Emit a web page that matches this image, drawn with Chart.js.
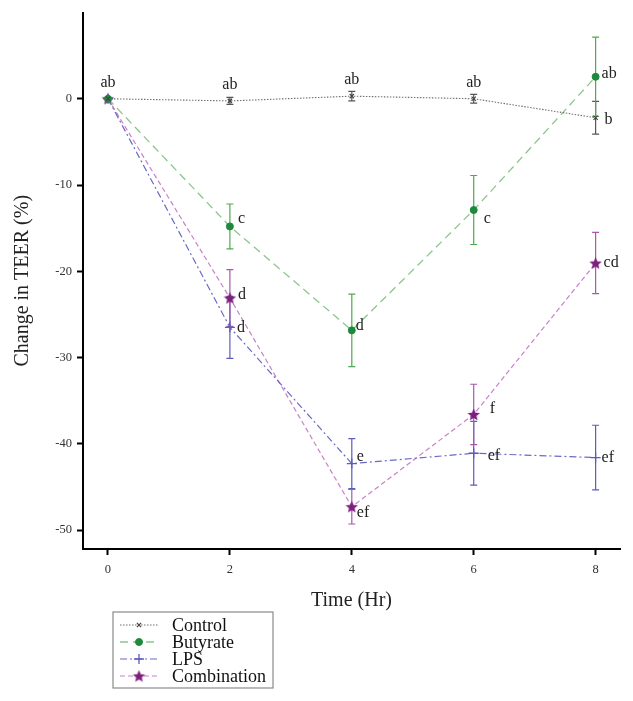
<!DOCTYPE html>
<html>
<head>
<meta charset="utf-8">
<script src="https://cdn.jsdelivr.net/npm/chart.js@4"></script>
<style>
  html, body { margin: 0; padding: 0; background: #fff; }
  #wrap { width: 633px; height: 701px; }
</style>
</head>
<body>
<div id="wrap"><canvas id="grafico" width="633" height="701"></canvas></div>
<script>
// datos
const tiempos = [0, 2, 4, 6, 8];
const xTicks = [0, 2, 4, 6, 8];
const yTicks = [-50, -40, -30, -20, -10, 0];

const nombres = ['Control', 'Butyrate', 'LPS', 'Combination'];

const control     = [0, -0.25, 0.3, 0.0, -2.2];
const butyrate    = [0, -14.8, -26.85, -12.9, 2.55];
const lps         = [0, -26.5, -42.3, -41.1, -41.6];
const combination = [0, -23.1, -47.3, -36.6, -19.05];

const controlErr     = [0, 0.4, 0.55, 0.5, 1.9];
const butyrateErr    = [0, 2.6, 4.2, 4.0, 4.6];
const lpsErr         = [0, 3.6, 2.9, 3.7, 3.75];
const combinationErr = [0, 3.3, 2.0, 3.5, 3.55];

const controlLetras     = ['ab', 'ab', 'ab', 'ab', 'b'];
const butyrateLetras    = ['', 'c', 'd', 'c', 'ab'];
const lpsLetras         = ['', 'd', 'e', 'ef', 'ef'];
const combinationLetras = ['', 'd', 'ef', 'f', 'cd'];

// desplazamientos de las letras (pixeles) y alineacion
const controlPos     = [[0, -16, 'center'], [0, -16, 'center'], [0, -16, 'center'], [0, -16, 'center'], [9, 2, 'left']];
const butyratePos    = [null, [8, -8, 'left'], [4, -5, 'left'], [10, 9, 'left'], [6, -3, 'left']];
const lpsPos         = [null, [7, 0, 'left'], [5, -7, 'left'], [14, 3, 'left'], [6, 0, 'left']];
const combinationPos = [null, [8, -3, 'left'], [5, 6, 'left'], [16, -6, 'left'], [8, 0, 'left']];

const SERIF = "'Liberation Serif', 'DejaVu Serif', serif";

function estrella(color, tam) {
    const c = document.createElement('canvas');
    c.width = tam; c.height = tam;
    const g = c.getContext('2d');
    const cx = tam / 2, cy = tam / 2 + 0.5, R = tam / 2, r = R * 0.45;
    g.beginPath();
    for (let i = 0; i < 10; i++) {
        const ang = -Math.PI / 2 + i * Math.PI / 5;
        const rr = i % 2 === 0 ? R : r;
        g.lineTo(cx + rr * Math.cos(ang), cy + rr * Math.sin(ang));
    }
    g.closePath();
    g.fillStyle = color;
    g.fill();
    return c;
}

function puntos(valores) {
    return valores.map((v, i) => ({ x: tiempos[i], y: v }));
}

const series = [
    { label: 'Control', data: puntos(control), err: controlErr, letras: controlLetras, pos: controlPos,
      borderColor: '#6f6f6f', errColor: '#555', borderDash: [1.5, 1.5], borderWidth: 1.1,
      pointStyle: 'crossRot', pointRadius: 3, pointBorderColor: '#444', pointBackgroundColor: '#444', pointBorderWidth: 1.2 },
    { label: 'Butyrate', data: puntos(butyrate), err: butyrateErr, letras: butyrateLetras, pos: butyratePos,
      borderColor: '#8cc68c', errColor: '#4fa94f', borderDash: [8, 5], borderWidth: 1.3,
      pointStyle: 'circle', pointRadius: 3.5, pointBorderColor: '#1d8a3c', pointBackgroundColor: '#1d8a3c', pointBorderWidth: 1 },
    { label: 'LPS', data: puntos(lps), err: lpsErr, letras: lpsLetras, pos: lpsPos,
      borderColor: '#6a6ac6', errColor: '#5c5cbb', borderDash: [7, 3, 2, 3], borderWidth: 1.2,
      pointStyle: 'cross', pointRadius: 5, pointBorderColor: '#5c5cbb', pointBackgroundColor: '#5c5cbb', pointBorderWidth: 1.3 },
    { label: 'Combination', data: puntos(combination), err: combinationErr, letras: combinationLetras, pos: combinationPos,
      borderColor: '#c882c8', errColor: '#a85aa8', borderDash: [5, 3], borderWidth: 1.2,
      pointStyle: estrella('#7d1f7d', 13), pointRadius: 6, pointBorderColor: '#7d1f7d', pointBackgroundColor: '#7d1f7d', pointBorderWidth: 1 }
];

const barrasError = {
    id: 'barrasError',
    beforeDatasetsDraw(chart) {
        const ctx = chart.ctx;
        const xs = chart.scales.x, ys = chart.scales.y;
        ctx.save();
        series.forEach(s => {
            ctx.strokeStyle = s.errColor;
            ctx.lineWidth = 1.2;
            s.data.forEach((p, i) => {
                const e = s.err[i];
                if (!e) return;
                const px = xs.getPixelForValue(p.x);
                const y1 = ys.getPixelForValue(p.y + e);
                const y2 = ys.getPixelForValue(p.y - e);
                ctx.beginPath();
                ctx.moveTo(px, y1); ctx.lineTo(px, y2);
                ctx.moveTo(px - 3.5, y1); ctx.lineTo(px + 3.5, y1);
                ctx.moveTo(px - 3.5, y2); ctx.lineTo(px + 3.5, y2);
                ctx.stroke();
            });
        });
        ctx.restore();
    }
};

const letras = {
    id: 'letras',
    afterDatasetsDraw(chart) {
        const ctx = chart.ctx;
        const xs = chart.scales.x, ys = chart.scales.y;
        ctx.save();
        ctx.font = '16px ' + SERIF;
        ctx.fillStyle = '#222';
        ctx.textBaseline = 'middle';
        series.forEach(s => {
            s.data.forEach((p, i) => {
                const t = s.letras[i];
                if (!t) return;
                const o = s.pos[i];
                ctx.textAlign = o[2];
                ctx.fillText(t, xs.getPixelForValue(p.x) + o[0], ys.getPixelForValue(p.y) + o[1]);
            });
        });
        ctx.restore();
    }
};

const leyenda = {
    id: 'leyenda',
    afterDraw(chart) {
        const ctx = chart.ctx;
        const area = chart.chartArea;
        const x0 = area.left + 30, y0 = area.bottom + 63;
        const fila = 17;
        ctx.save();
        ctx.strokeStyle = '#8a8a8a';
        ctx.lineWidth = 1.2;
        ctx.setLineDash([]);
        ctx.strokeRect(x0, y0, 160, 76);
        ctx.font = '18px ' + SERIF;
        ctx.fillStyle = '#111';
        ctx.textBaseline = 'middle';
        ctx.textAlign = 'left';
        series.forEach((s, i) => {
            const yy = y0 + 13 + i * fila;
            ctx.strokeStyle = s.borderColor;
            ctx.lineWidth = s.borderWidth;
            ctx.setLineDash(s.borderDash);
            ctx.beginPath();
            ctx.moveTo(x0 + 7, yy); ctx.lineTo(x0 + 45, yy);
            ctx.stroke();
            ctx.setLineDash([]);
            ctx.strokeStyle = s.pointBorderColor;
            ctx.fillStyle = s.pointBackgroundColor;
            ctx.lineWidth = s.pointBorderWidth;
            Chart.helpers.drawPoint(ctx, { pointStyle: s.pointStyle, radius: s.pointRadius, rotation: 0, borderWidth: s.pointBorderWidth }, x0 + 26, yy);
            ctx.fillStyle = '#111';
            ctx.fillText(nombres[i], x0 + 59, yy + 1);
        });
        ctx.restore();
    }
};

const ctx = document.getElementById('grafico').getContext('2d');
const miGrafico = new Chart(ctx, {
    type: 'line',
    data: {
        datasets: series.map(s => ({
            label: s.label,
            data: s.data,
            borderColor: s.borderColor,
            borderDash: s.borderDash,
            borderWidth: s.borderWidth,
            pointStyle: s.pointStyle,
            pointRadius: s.pointRadius,
            pointBorderColor: s.pointBorderColor,
            pointBackgroundColor: s.pointBackgroundColor,
            pointBorderWidth: s.pointBorderWidth,
            fill: false,
            tension: 0
        }))
    },
    options: {
        responsive: false,
        animation: false,
        layout: { padding: { top: 12, right: 13, bottom: 0, left: 0 } },
        plugins: {
            legend: { display: false },
            tooltip: { enabled: false }
        },
        scales: {
            x: {
                type: 'linear',
                min: -0.41,
                max: 8.4,
                afterBuildTicks: s => { s.ticks = xTicks.map(v => ({ value: v })); },
                afterFit: s => { s.height = 152; },
                grid: { drawOnChartArea: false, drawTicks: true, tickLength: 6, tickColor: '#000', tickWidth: 2 },
                border: { display: true, color: '#000', width: 2 },
                ticks: { padding: 7, color: '#333', font: { family: SERIF, size: 12.5 } },
                title: { display: true, text: 'Time (Hr)', color: '#222', font: { family: SERIF, size: 20 }, padding: { top: 4, bottom: 88 } }
            },
            y: {
                min: -52.2,
                max: 10,
                afterBuildTicks: s => { s.ticks = yTicks.map(v => ({ value: v })); },
                afterFit: s => { s.width = 83; },
                grid: { drawOnChartArea: false, drawTicks: true, tickLength: 6, tickColor: '#000', tickWidth: 2 },
                border: { display: true, color: '#000', width: 2 },
                ticks: { padding: 5, color: '#333', font: { family: SERIF, size: 12.5 } },
                title: { display: true, text: 'Change in TEER (%)', color: '#222', font: { family: SERIF, size: 20 }, padding: { top: 11, bottom: 4 } }
            }
        }
    },
    plugins: [barrasError, letras, leyenda]
});
</script>
</body>
</html>
